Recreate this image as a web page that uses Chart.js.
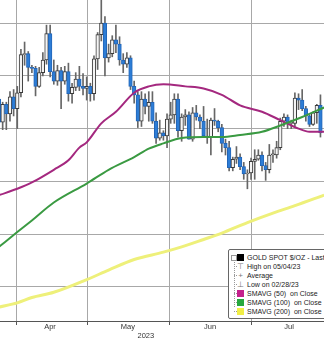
<!DOCTYPE html>
<html>
<head>
<meta charset="utf-8">
<script src="https://cdn.jsdelivr.net/npm/chart.js@4.4.0/dist/chart.umd.min.js"></script>
<style>
  html, body { margin: 0; padding: 0; background: #fff; overflow: hidden; }
  #wrap { position: relative; width: 324px; height: 339px; }
  #legendBox {
    position: absolute; left: 228px; top: 249px; width: 110px; height: 68px;
    background: #fff; border: 1px solid #666; border-radius: 2px;
    font-family: 'Liberation Sans', Arial, sans-serif; font-size: 7px; color: #222;
  }
  .row { position: absolute; left: 18px; height: 9px; line-height: 9px; white-space: pre; }
  .sq { position: absolute; left: 8px; width: 7px; height: 7px; }
  .sym { position: absolute; left: 8px; width: 7px; height: 9px; line-height: 9px; text-align: center; color: #777; font-size: 8px; }
  .tree { position: absolute; left: 5px; top: 8px; width: 0; height: 49px; border-left: 1px dotted #999; }
  .branch { position: absolute; left: 5px; width: 3px; height: 0; border-top: 1px dotted #999; }
  .collapse { position: absolute; left: 2px; top: 5px; width: 4px; height: 4px; border: 1px solid #999; background: #fff; }
</style>
</head>
<body>
<div id="wrap">
  <canvas id="goldChart"></canvas>
  <div id="legendBox">
    <div class="tree"></div>
    <div class="branch" style="top:16px"></div>
    <div class="branch" style="top:25px"></div>
    <div class="branch" style="top:34px"></div>
    <div class="branch" style="top:43px"></div>
    <div class="branch" style="top:52px"></div>
    <div class="branch" style="top:61px"></div>
    <div class="collapse"></div>
    <div class="sq" style="top:4px;background:#000"></div>
    <div class="row" style="top:3px">GOLD SPOT $/OZ - Last Price</div>
    <div class="sym" style="top:12px">⊤</div>
    <div class="row" style="top:12px">High on 05/04/23</div>
    <div class="sym" style="top:21px">+</div>
    <div class="row" style="top:21px">Average</div>
    <div class="sym" style="top:30px">⊥</div>
    <div class="row" style="top:30px">Low on 02/28/23</div>
    <div class="sq" style="top:40px;background:#c4208c"></div>
    <div class="row" style="top:39px">SMAVG (50)  on Close</div>
    <div class="sq" style="top:49px;background:#27a83e"></div>
    <div class="row" style="top:48px">SMAVG (100)  on Close</div>
    <div class="sq" style="top:58px;background:#f1ee45"></div>
    <div class="row" style="top:57px">SMAVG (200)  on Close</div>
  </div>
</div>
<script>
//  Daily candles, gold spot, 03/27/23 -> 07/27/23 (one entry per trading day)
const tradingDays = [
  '03/27','03/28','03/29','03/30','03/31',
  '04/03','04/04','04/05','04/06','04/07','04/10','04/11','04/12','04/13','04/14',
  '04/17','04/18','04/19','04/20','04/21','04/24','04/25','04/26','04/27','04/28',
  '05/01','05/02','05/03','05/04','05/05','05/08','05/09','05/10','05/11','05/12',
  '05/15','05/16','05/17','05/18','05/19','05/22','05/23','05/24','05/25','05/26',
  '05/29','05/30','05/31',
  '06/01','06/02','06/05','06/06','06/07','06/08','06/09','06/12','06/13','06/14',
  '06/15','06/16','06/19','06/20','06/21','06/22','06/23','06/26','06/27','06/28',
  '06/29','06/30',
  '07/03','07/04','07/05','07/06','07/07','07/10','07/11','07/12','07/13','07/14',
  '07/17','07/18','07/19','07/20','07/21','07/24','07/25','07/26','07/27'
];
const openPrices = [
  1978,1956,1973,1964,1980,
  1969,1984,2020,2021,2008,2007,1990,2003,2015,2040,
  2004,1995,2005,1995,2004,1983,1989,1997,1990,1988,
  1990,1983,2016,2039,2050,2017,2021,2034,2030,2015,
  2011,2017,1990,1982,1957,1978,1971,1975,1957,1941,
  1946,1943,1959,
  1963,1978,1948,1961,1963,1940,1965,1961,1957,1943,
  1942,1958,1957,1951,1936,1932,1913,1921,1923,1914,
  1907,1908,
  1919,1921,1925,1915,1911,1925,1925,1932,1957,1961,
  1955,1955,1979,1977,1969,1962,1954,1965,1972
];
const highPrices = [
  1980,1975,1975,1985,1987,
  1990,2025,2032,2023,2010,2009,2008,2022,2048,2048,
  2015,2010,2008,2009,2012,1993,2003,2009,2002,1999,
  1993,2019,2041,2072,2056,2030,2038,2048,2037,2021,
  2022,2019,1995,1985,1985,1983,1985,1985,1965,1958,
  1948,1964,1975,
  1983,1983,1964,1968,1966,1970,1972,1963,1971,1959,
  1960,1969,1958,1954,1940,1938,1923,1933,1926,1918,
  1911,1922,
  1930,1930,1928,1918,1935,1930,1938,1960,1964,1963,
  1958,1984,1983,1987,1971,1963,1966,1973,1982
];
const lowPrices = [
  1944,1949,1949,1957,1962,
  1950,1980,2010,1995,2003,1981,1989,2000,2011,1999,
  1992,1991,1969,1992,1976,1974,1986,1986,1982,1977,
  1976,1977,2006,2033,2000,2013,2018,2022,2010,2003,
  2008,1987,1974,1951,1952,1964,1957,1955,1936,1939,
  1939,1932,1955,
  1955,1942,1938,1953,1940,1938,1958,1950,1942,1936,
  1925,1953,1947,1928,1925,1910,1910,1917,1911,1902,
  1893,1902,
  1902,1920,1910,1901,1908,1918,1922,1930,1952,1950,
  1950,1952,1968,1967,1957,1952,1953,1955,1942
];
const closePrices = [
  1956,1973,1964,1980,1969,
  1984,2020,2021,2008,2007,1990,2003,2015,2040,2004,
  1995,2005,1995,2004,1983,1989,1997,1990,1988,1990,
  1983,2016,2039,2050,2017,2021,2034,2030,2015,2011,
  2017,1990,1982,1957,1978,1971,1975,1957,1941,1946,
  1943,1959,1963,
  1978,1948,1961,1963,1940,1965,1961,1957,1943,1942,
  1958,1957,1951,1936,1932,1913,1921,1923,1914,1907,
  1908,1919,
  1921,1925,1915,1911,1925,1926,1932,1957,1961,1955,
  1956,1979,1977,1969,1962,1954,1965,1972,1946
];

//  Moving averages (day index -> value)
const sma50Days  = [0, 5, 9, 15, 19, 22, 24, 28, 32, 37, 41, 45, 51, 56, 61, 66, 72, 77, 82, 85, 89];
const sma50      = [1887, 1893, 1899, 1911, 1920, 1932, 1937, 1955, 1966, 1984, 1990, 1992, 1990, 1988, 1982, 1972, 1966, 1958, 1950, 1947, 1947];
const sma100Days = [0, 5, 9, 15, 24, 30, 37, 41, 45, 50, 56, 61, 66, 72, 77, 83, 89];
const sma100     = [1838, 1852, 1863, 1880, 1898, 1911, 1923, 1931, 1936, 1941, 1942, 1942, 1944, 1947, 1953, 1961, 1970];
const sma200Days = [0, 5, 9, 15, 24, 30, 37, 45, 50, 56, 61, 68, 75, 81, 89];
const sma200     = [1781, 1785, 1790, 1795, 1807, 1816, 1826, 1833, 1838, 1845, 1851, 1861, 1870, 1877, 1887];

//  Axis labels
const priceGrid = [1800, 1850, 1900, 1950, 2000, 2050];
const monthLabels = ['Apr', 'May', 'Jun', 'Jul'];
const yearLabels = ['2023'];

//******************************************************************************
//  axis placement (in day-index units)
//******************************************************************************
const X_MIN = 0.27;
const X_MAX = 88.97;
const monthStarts = [4.9, 24.1, 46.8, 69.0];
const monthMiddles = [13.96, 35.3, 57.8, 79.4];
const yearMiddle = [40.2];

const UP_FILL = '#f4f4f4';
const UP_EDGE = '#3a3a3a';
const DOWN_FILL = '#2d7dd6';
const DOWN_EDGE = '#2366b8';

Chart.defaults.font.family = "'Liberation Sans', Arial, sans-serif";
Chart.defaults.color = '#333';

function isUp(i) {
  return closePrices[i] >= openPrices[i];
}

function toPoints(days, values) {
  return days.map((d, k) => ({ x: d, y: values[k] }));
}

const wickData = tradingDays.map((d, i) => ({ x: i, y: [lowPrices[i], highPrices[i]] }));
const bodyData = tradingDays.map((d, i) => ({ x: i, y: [openPrices[i], closePrices[i]] }));

const ctx = document.getElementById('goldChart').getContext('2d');

let goldChart = new Chart(ctx, {
  type: 'bar',
  data: {
    datasets: [
      {
        type: 'line',
        data: toPoints(sma200Days, sma200),
        borderColor: '#eef07a',
        borderWidth: 3,
        pointRadius: 0,
        cubicInterpolationMode: 'monotone',
        order: 0
      },
      {
        type: 'line',
        data: toPoints(sma100Days, sma100),
        borderColor: '#3a9a42',
        borderWidth: 2,
        pointRadius: 0,
        cubicInterpolationMode: 'monotone',
        order: 0
      },
      {
        type: 'line',
        data: toPoints(sma50Days, sma50),
        borderColor: '#a4287f',
        borderWidth: 2,
        pointRadius: 0,
        cubicInterpolationMode: 'monotone',
        order: 0
      },
      {
        type: 'bar',
        data: bodyData,
        backgroundColor: (c) => isUp(c.dataIndex) ? UP_FILL : DOWN_FILL,
        borderColor: (c) => isUp(c.dataIndex) ? UP_EDGE : DOWN_EDGE,
        borderWidth: 1,
        borderSkipped: false,
        barThickness: 3.6,
        grouped: false,
        order: 2
      },
      {
        type: 'bar',
        data: wickData,
        backgroundColor: '#666',
        borderWidth: 0,
        barThickness: 1,
        grouped: false,
        order: 3
      }
    ]
  },
  options: {
    responsive: true,
    maintainAspectRatio: false,
    animation: false,
    events: [],
    layout: { padding: 0 },
    plugins: { legend: { display: false }, tooltip: { enabled: false } },
    scales: {
      x: {
        type: 'linear',
        position: 'bottom',
        weight: 0,
        min: X_MIN,
        max: X_MAX,
        offset: false,
        afterBuildTicks: (s) => { s.ticks = monthStarts.map(v => ({ value: v })); },
        afterFit: (s) => { s.height = 1; },
        ticks: { display: false },
        grid: {
          offset: false,
          color: '#a8a8a8',
          borderDash: [1, 2],
          drawTicks: true,
          tickLength: 4,
          tickColor: '#555',
          tickBorderDash: []
        },
        border: { display: true, color: '#555', width: 1 }
      },
      xm: {
        type: 'linear',
        position: 'bottom',
        weight: 1,
        min: X_MIN,
        max: X_MAX,
        offset: false,
        afterBuildTicks: (s) => { s.ticks = monthMiddles.map(v => ({ value: v })); },
        afterFit: (s) => { s.height = 9; },
        ticks: {
          autoSkip: false,
          maxRotation: 0,
          padding: 0,
          font: { size: 7.5 },
          color: '#333',
          callback: (v, i) => monthLabels[i]
        },
        grid: { display: false, drawTicks: false },
        border: { display: false }
      },
      xy: {
        type: 'linear',
        position: 'bottom',
        weight: 2,
        min: X_MIN,
        max: X_MAX,
        offset: false,
        afterBuildTicks: (s) => { s.ticks = yearMiddle.map(v => ({ value: v })); },
        afterFit: (s) => { s.height = 8; },
        ticks: {
          autoSkip: false,
          maxRotation: 0,
          padding: 0,
          font: { size: 7.5 },
          color: '#333',
          callback: (v, i) => yearLabels[i]
        },
        grid: { display: false, drawTicks: false },
        border: { display: false }
      },
      y: {
        type: 'linear',
        position: 'left',
        min: 1767.8,
        max: 2071.8,
        afterBuildTicks: (s) => { s.ticks = priceGrid.map(v => ({ value: v })); },
        afterFit: (s) => { s.width = 0; },
        ticks: { display: false },
        grid: { color: '#a8a8a8', borderDash: [1, 2], drawTicks: false },
        border: { display: false }
      }
    }
  }
});
</script>
</body>
</html>
